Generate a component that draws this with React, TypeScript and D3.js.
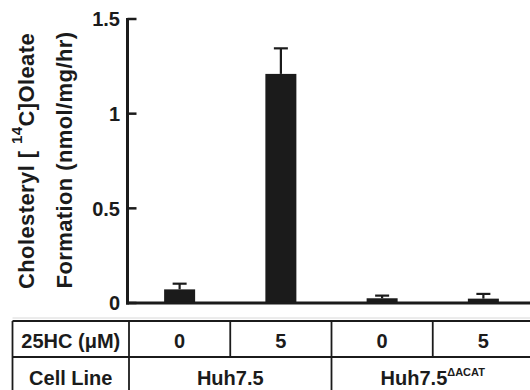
import React from "react";
import * as d3 from "d3";

// conditions, left to right
const conditions = ["huh-0", "huh-5", "acat-0", "acat-5"];
const hcDoses = ["0", "5", "0", "5"];
const cellLines = ["Huh7.5", "Huh7.5"];
const cellLineSups = ["", "\u0394ACAT"];
const oleateMeans = [0.072, 1.21, 0.025, 0.023];
const oleateErrors = [0.03, 0.135, 0.014, 0.025];
const yTicks = [0, 0.5, 1, 1.5];
const yTickLabels = ["0", "0.5", "1", "1.5"];

const W = 530;
const H = 390;
const ink = "#1b1b1b";
const font = "'Liberation Sans', Arial, Helvetica, sans-serif";

const App = () => {
  // x: one band per condition, shared with table columns
  const x = d3.scaleBand<string>().domain(conditions).range([129, 534]).padding(0);
  const y = d3.scaleLinear().domain([0, 1.5]).range([303, 19]);
  const barW = 31;
  const capW = 14;

  const axisX = 127.5;
  const tableTop = 321;
  const rowSplit = 357;
  const tableLeft = 12.5;

  const colEdges = conditions.map(c => x(c) as number);
  const groupEdges = [colEdges[0], colEdges[2]];
  const groupCenters = [
    (colEdges[0] + colEdges[2]) / 2,
    (colEdges[2] + (x.range()[1] as number)) / 2,
  ];

  return (
    <svg width={W} height={H} style={{ position: "absolute", left: 0, top: 0, background: "#fff" }}
      fontFamily={font} fontWeight="bold" fill={ink}>
      {/* y axis title */}
      <g transform={`translate(34,161) rotate(-90)`}>
        <text textAnchor="middle" fontSize={22} letterSpacing={0.4}>
          Cholesteryl [ <tspan fontSize={15} dy={-12}>14</tspan><tspan dy={12}>C]Oleate</tspan>
        </text>
      </g>
      <g transform={`translate(71.5,160) rotate(-90)`}>
        <text textAnchor="middle" fontSize={22} letterSpacing={0.4}>Formation (nmol/mg/hr)</text>
      </g>

      {/* bars */}
      {conditions.map((c, i) => {
        const cx = (x(c) as number) + x.bandwidth() / 2;
        return (
          <g key={c}>
            <line x1={cx} x2={cx} y1={y(oleateMeans[i])} y2={y(oleateMeans[i] + oleateErrors[i])}
              stroke={ink} strokeWidth={2.2} />
            <line x1={cx - capW / 2} x2={cx + capW / 2}
              y1={y(oleateMeans[i] + oleateErrors[i])} y2={y(oleateMeans[i] + oleateErrors[i])}
              stroke={ink} strokeWidth={2.2} />
            <rect x={cx - barW / 2} width={barW} y={y(oleateMeans[i])}
              height={y(0) - y(oleateMeans[i])} fill={ink} />
          </g>
        );
      })}

      {/* y axis */}
      <line x1={axisX} x2={axisX} y1={y(1.5) - 1} y2={y(0) + 1.5} stroke={ink} strokeWidth={3} />
      <line x1={axisX - 1.5} x2={W} y1={y(0)} y2={y(0)} stroke={ink} strokeWidth={3} />
      {yTicks.map((t, i) => (
        <g key={t}>
          <line x1={axisX} x2={axisX + 9} y1={y(t)} y2={y(t)} stroke={ink} strokeWidth={2.5} />
          <text x={120} y={y(t)} dy="0.36em" textAnchor="end" fontSize={20}>{yTickLabels[i]}</text>
        </g>
      ))}

      {/* faint separator */}
      <line x1={tableLeft} x2={W} y1={318} y2={318} stroke="#d8d8d8" strokeWidth={1} />

      {/* table */}
      <g stroke={ink} strokeWidth={1.8} fill="none">
        <line x1={tableLeft} x2={W} y1={tableTop} y2={tableTop} />
        <line x1={tableLeft} x2={W} y1={rowSplit} y2={rowSplit} />
        <line x1={tableLeft} x2={tableLeft} y1={tableTop} y2={H} />
        {colEdges.map((e, i) => (
          <line key={i} x1={e} x2={e} y1={tableTop} y2={rowSplit} />
        ))}
        {groupEdges.map((e, i) => (
          <line key={i} x1={e} x2={e} y1={rowSplit} y2={H} />
        ))}
      </g>
      <text x={(tableLeft + colEdges[0]) / 2} y={348} textAnchor="middle" fontSize={20}>25HC (μM)</text>
      <text x={(tableLeft + colEdges[0]) / 2} y={385} textAnchor="middle" fontSize={20}>Cell Line</text>
      {conditions.map((c, i) => (
        <text key={c} x={(x(c) as number) + x.bandwidth() / 2} y={348} textAnchor="middle" fontSize={20}>
          {hcDoses[i]}
        </text>
      ))}
      {cellLines.map((name, i) => (
        <text key={i} x={groupCenters[i]} y={385} textAnchor="middle" fontSize={20}>
          {name}
          {cellLineSups[i] && <tspan fontSize={11} dy={-9}>{cellLineSups[i]}</tspan>}
        </text>
      ))}
    </svg>
  );
};

export default App;
